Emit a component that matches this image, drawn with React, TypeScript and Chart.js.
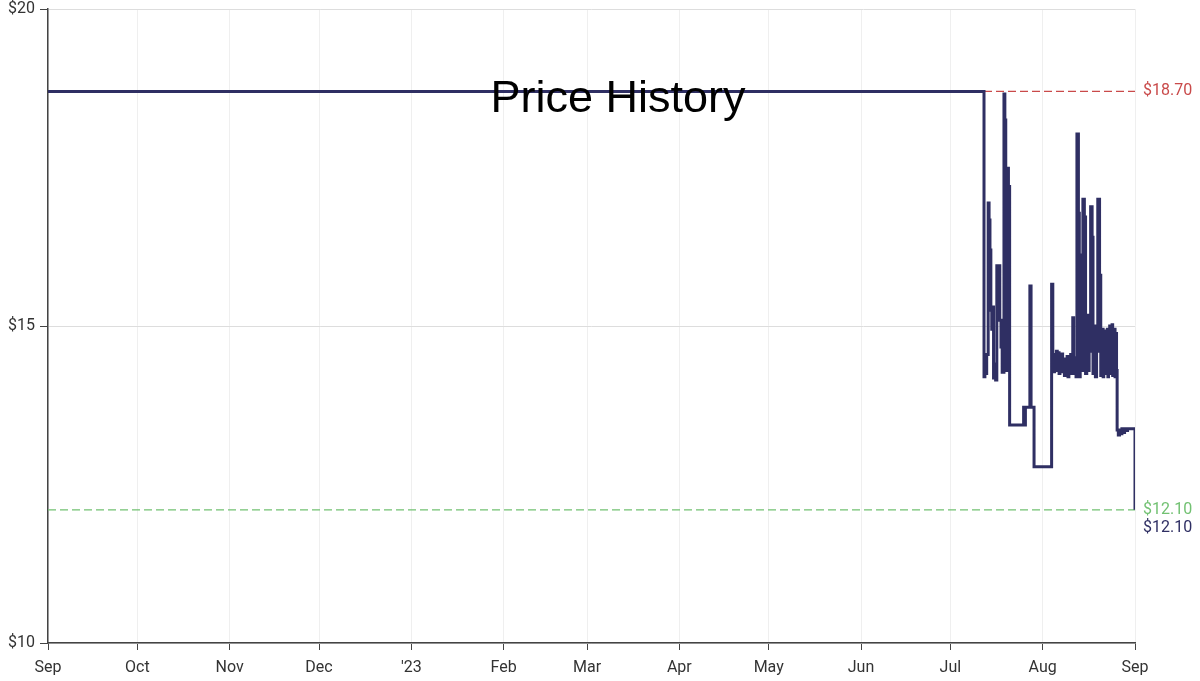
import React, { useEffect, useRef } from "react";
import { Chart, registerables } from "chart.js";

Chart.register(...registerables);

// Days counted from 2022-09-01
const monthTickDays = [0, 30, 61, 91, 122, 153, 181, 212, 242, 273, 303, 334, 365];
const monthTickLabels = ["Sep", "Oct", "Nov", "Dec", "'23", "Feb", "Mar", "Apr", "May", "Jun", "Jul", "Aug", "Sep"];
const yTickValues = [10, 15, 20];

const priceDays = [
  0, 314.3, 314.6, 314.9, 315.2, 315.7, 316.0, 316.3, 316.6, 316.9, 317.2, 317.5, 317.9, 318.2,
  318.6, 319.0, 319.3, 319.6, 320.0, 320.4, 321.0, 321.3, 321.6, 321.9, 322.2, 322.5, 322.9,
  327.6, 327.9, 328.2, 329.7, 330.1, 331.1, 337.0, 337.4, 337.7, 338.0, 338.3, 338.6, 338.9,
  339.2, 339.5, 339.8, 340.1, 340.4, 340.7, 341.0, 341.3, 341.6, 341.9, 342.2, 342.5, 342.8,
  343.1, 343.4, 343.8, 344.1, 344.4, 344.8, 345.2, 345.5, 346.0, 346.3, 346.6, 347.0, 347.5,
  348.0, 348.4, 348.8, 349.2, 349.6, 350.1, 350.6, 350.9, 351.3, 351.7, 352.1, 352.5, 353.1,
  353.5, 353.7, 353.9, 354.1, 354.3, 354.5, 354.7, 354.9, 355.1, 355.3, 355.5, 355.7, 355.9,
  356.1, 356.3, 356.5, 356.7, 356.9, 357.1, 357.3, 357.5, 357.7, 357.9, 358.1, 358.3, 358.5,
  358.8, 359.0, 359.4, 359.8, 360.2, 360.6, 361.0, 361.5, 362.0, 362.5, 365.0,
];
const prices = [
  18.7, 14.2, 14.5, 14.25, 14.55, 16.94, 16.67, 16.2, 15.25, 14.95, 15.3, 14.18, 14.4, 14.15,
  15.95, 15.4, 15.95, 15.09, 14.67, 14.27, 18.66, 18.25, 17.49, 14.3, 17.49, 17.2, 13.44,
  13.72, 13.44, 13.72, 15.63, 13.72, 12.78, 15.66, 14.51, 14.28, 14.55, 14.35, 14.6, 14.3,
  14.58, 14.25, 14.5, 14.4, 14.56, 14.28, 14.45, 14.22, 14.48, 14.3, 14.52, 14.2, 14.42,
  14.25, 14.55, 14.3, 15.13, 14.25, 14.5, 14.2, 18.03, 16.78, 14.2, 16.12, 14.3, 17.0,
  16.72, 14.25, 15.17, 14.3, 14.6, 16.88, 16.4, 14.25, 15.0, 14.2, 14.6, 17.0, 15.8,
  14.22, 14.9, 14.3, 14.95, 14.2, 14.85, 14.35, 14.92, 14.25, 14.88, 14.4, 14.95, 14.2,
  14.8, 14.3, 15.0, 14.25, 14.9, 14.35, 15.02, 14.22, 14.85, 14.3, 14.95, 14.2, 14.88,
  14.3, 13.36, 13.28, 13.36, 13.3, 13.38, 13.32, 13.38, 13.35, 13.38, 12.1,
];

const highestPrice = 18.7;
const lowestPrice = 12.1;
const currentPrice = 12.1;
const chartTitle = "Price History";

const NAVY = "#2f2f63";
const RED = "#c94a4a";
const GREEN = "#72c172";

export default function App() {
  const canvasRef = useRef<HTMLCanvasElement | null>(null);

  useEffect(() => {
    if (!canvasRef.current) return;
    Chart.defaults.font.family = "Roboto";

    const overlay = {
      id: "overlay",
      afterDraw(chart: any) {
        const { ctx, chartArea, scales } = chart;
        const y = scales.y;
        ctx.save();
        ctx.font = "16px Roboto";
        ctx.textAlign = "left";
        ctx.textBaseline = "middle";
        const lx = chartArea.right + 8;
        ctx.fillStyle = RED;
        ctx.fillText("$" + highestPrice.toFixed(2), lx, y.getPixelForValue(highestPrice));
        ctx.fillStyle = GREEN;
        ctx.fillText("$" + lowestPrice.toFixed(2), lx, y.getPixelForValue(lowestPrice));
        ctx.fillStyle = NAVY;
        ctx.fillText("$" + currentPrice.toFixed(2), lx, y.getPixelForValue(currentPrice) + 18);
        ctx.font = "45px 'Liberation Sans'";
        ctx.textAlign = "center";
        ctx.fillStyle = "#000";
        ctx.fillText(chartTitle, 618, 100);
        ctx.restore();
      },
    };

    const chart = new Chart(canvasRef.current, {
      type: "line",
      data: {
        datasets: [
          {
            data: priceDays.map((d, i) => ({ x: d, y: prices[i] })),
            borderColor: NAVY,
            borderWidth: 3,
            stepped: true,
            pointRadius: 0,
            fill: false,
          },
          {
            data: [
              { x: monthTickDays[0], y: highestPrice },
              { x: monthTickDays[monthTickDays.length - 1], y: highestPrice },
            ],
            borderColor: RED,
            borderWidth: 1.3,
            borderDash: [8, 4],
            pointRadius: 0,
          },
          {
            data: [
              { x: monthTickDays[0], y: lowestPrice },
              { x: monthTickDays[monthTickDays.length - 1], y: lowestPrice },
            ],
            borderColor: GREEN,
            borderWidth: 1.3,
            borderDash: [8, 4],
            pointRadius: 0,
          },
        ],
      },
      options: {
        animation: false,
        responsive: true,
        maintainAspectRatio: false,
        layout: { padding: { left: 0, top: 9, right: 65, bottom: 0 } },
        plugins: { legend: { display: false }, tooltip: { enabled: false }, title: { display: false } },
        scales: {
          x: {
            type: "linear",
            min: monthTickDays[0],
            max: monthTickDays[monthTickDays.length - 1],
            afterBuildTicks: (scale: any) => {
              scale.ticks = monthTickDays.map((v) => ({ value: v }));
            },
            afterFit: (scale: any) => {
              scale.height = 38;
            },
            ticks: {
              autoSkip: false,
              maxRotation: 0,
              color: "#333",
              font: { size: 16 },
              padding: 8,
              callback: (value: any) => {
                const i = monthTickDays.indexOf(Number(value));
                return i >= 0 ? monthTickLabels[i] : "";
              },
            },
            grid: { color: "#efefef", tickColor: "#444", tickLength: 7, lineWidth: 1 },
            border: { color: "#444", width: 1.5 },
          },
          y: {
            type: "linear",
            min: yTickValues[0],
            max: yTickValues[yTickValues.length - 1],
            afterBuildTicks: (scale: any) => {
              scale.ticks = yTickValues.map((v) => ({ value: v }));
            },
            afterFit: (scale: any) => {
              scale.width = 48;
              scale.paddingTop = 0;
              scale.paddingBottom = 0;
            },
            ticks: {
              color: "#333",
              font: { size: 16 },
              padding: 5,
              callback: (value: any) => "$" + value,
            },
            grid: { color: "#dddddd", tickColor: "#444", tickLength: 8, lineWidth: 1 },
            border: { color: "#444", width: 1.5 },
          },
        },
      },
      plugins: [overlay],
    });
    return () => chart.destroy();
  }, []);

  return (
    <div style={{ position: "fixed", left: 0, top: 0, width: 1200, height: 681, background: "#fff" }}>
      <canvas ref={canvasRef} />
    </div>
  );
}
